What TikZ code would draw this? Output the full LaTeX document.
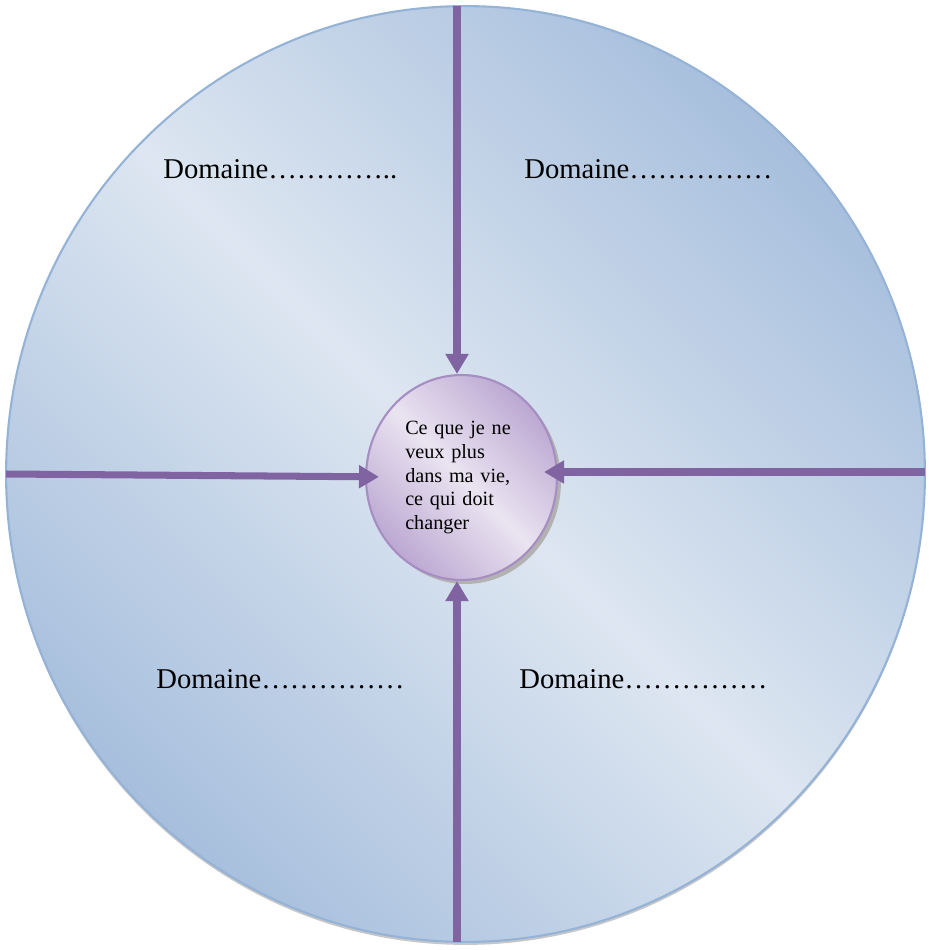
\documentclass[tikz,border=0pt]{standalone}
\usepackage{fontspec}
\setmainfont{Liberation Serif}
\usepackage{tikz}
\usetikzlibrary{arrows.meta,shapes.geometric}
\definecolor{domBlue}{RGB}{167,191,221}
\definecolor{domBlueLight}{RGB}{221,230,241}
\definecolor{domBlueEdge}{RGB}{149,179,215}
\definecolor{corePurple}{RGB}{188,168,210}
\definecolor{corePurpleLight}{RGB}{234,228,241}
\definecolor{corePurpleEdge}{RGB}{166,141,194}
\definecolor{spokePurple}{RGB}{128,100,162}

\begin{document}
\begin{tikzpicture}[x=0.02cm,y=-0.02cm,
  domtext/.style={anchor=base west,inner sep=0pt,font=\fontsize{16.3}{19}\selectfont},
  spoke/.style={spokePurple,line width=4pt,-{Triangle[length=0.4cm,width=0.44cm]}}]
\useasboundingbox (0,0) rectangle (929,950);
\fill[black!22] (465.5,477) ellipse [x radius=9.19cm, y radius=9.36cm];
\node[ellipse,draw=domBlueEdge,line width=1.2pt,inner sep=0pt,
  minimum width=18.38cm,minimum height=18.72cm,
  top color=domBlue,bottom color=domBlue,middle color=domBlueLight,shading angle=-45]
  (wheel) at (465.5,474) {};
\fill[black!30] (465.5,481.5) ellipse [x radius=1.91cm, y radius=2.05cm];
\node[ellipse,draw=corePurpleEdge,line width=1.2pt,inner sep=0pt,
  minimum width=3.82cm,minimum height=4.1cm,
  top color=corePurple,bottom color=corePurple,middle color=corePurpleLight,shading angle=-45,
  text width=2.25cm,align=left,font=\fontsize{11.5}{13.6}\selectfont]
  (core) at (461.5,477.5) {Ce que je ne\\ veux plus\\ dans ma vie,\\ ce qui doit\\ changer};
\coordinate (topend) at (457,6);
\coordinate (botend) at (457,942);
\coordinate (leftend) at (6,474);
\coordinate (rightend) at (925,472);
\draw[spoke] (topend) -- (topend |- core.north);
\draw[spoke] (botend) -- (botend |- core.south);
\draw[spoke,shorten >=-0.28cm] (leftend) -- (core);
\draw[spoke,shorten >=-0.28cm] (rightend) -- (rightend -| core.east);
\node[domtext] (domtl) at (163,178) {Domaine…………..};
\node[domtext] (domtr) at (524,178) {Domaine……………};
\node[domtext] (dombl) at (156,688) {Domaine……………};
\node[domtext] (dombr) at (519,688) {Domaine……………};
\end{tikzpicture}
\end{document}
